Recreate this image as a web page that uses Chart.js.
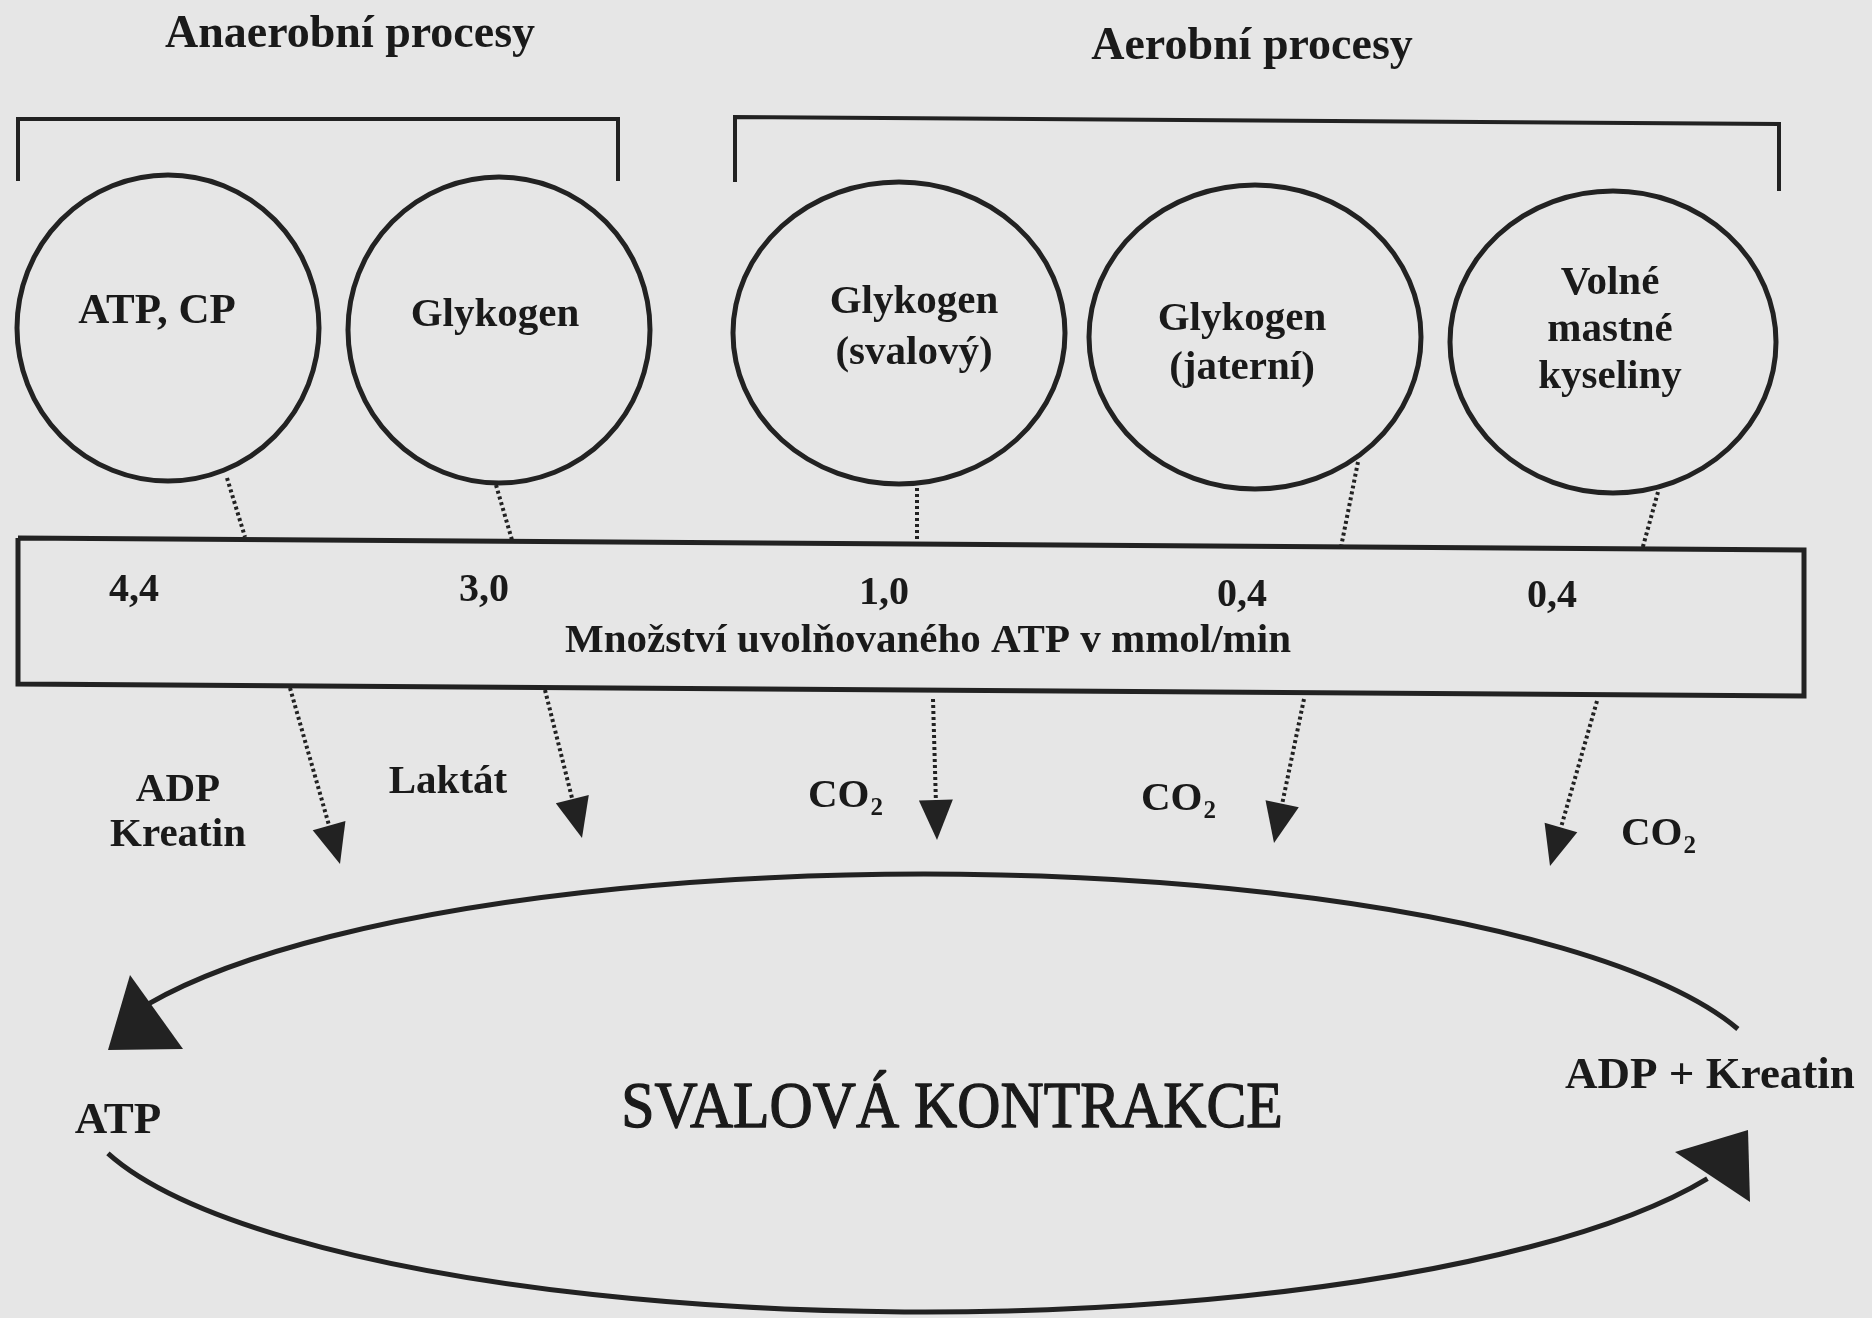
<!DOCTYPE html>
<html>
<head>
<meta charset="utf-8">
<title>Svalová kontrakce - zdroje ATP</title>
<script src="https://cdn.jsdelivr.net/npm/chart.js"></script>
<style>
  html, body { margin: 0; padding: 0; background: #e6e6e6; }
  #wrap { width: 1872px; height: 1318px; }
</style>
</head>
<body>
<div id="wrap"><canvas id="atpChart"></canvas></div>
<script>
// texts and values
const groupTitles = ['Anaerobní procesy', 'Aerobní procesy'];
const sources = [['ATP, CP'], ['Glykogen'], ['Glykogen', '(svalový)'], ['Glykogen', '(jaterní)'], ['Volné', 'mastné', 'kyseliny']];
const atpRates = [4.4, 3.0, 1.0, 0.4, 0.4];
const rateCaption = 'Množství uvolňovaného ATP v mmol/min';
const products = [['ADP', 'Kreatin'], ['Laktát'], ['CO2'], ['CO2'], ['CO2']];
const cycleTitle = 'SVALOVÁ KONTRAKCE';
const cycleLabels = ['ATP', 'ADP + Kreatin'];

// layout in diagram units (x 0..1872, y 0..1318 going down)
const groupTitlePos = [[350, 47], [1252, 59]];
const brackets = [
  [[18, 181], [18, 119], [618, 119], [618, 181]],
  [[735, 182], [735, 117], [1779, 124], [1779, 191]]
];
const sourceCircles = [[168, 328, 151, 153], [499, 330, 151, 153], [899, 333, 166, 151], [1255, 337, 166, 152], [1613, 342, 163, 151]];
const sourceTextPos = [[157, 323], [495, 326], [914, 313], [1242, 330], [1610, 294]];
const sourceTextSize = [43, 41, 41, 41, 41];
const sourceLineGap = [0, 0, 51, 49, 47];
const rateBox = [[18, 538], [1804, 550], [1804, 696], [18, 684], [18, 538]];
const rateTextPos = [[134, 601], [484, 601], [884, 604], [1242, 606], [1552, 607]];
const captionPos = [928, 652];
const links = [[[227, 478], [245, 537]], [[496, 485], [512, 540]], [[917, 488], [917, 543]], [[1358, 462], [1341, 547]], [[1658, 492], [1642, 550]]];
const outflows = [[[290, 688], [340, 864]], [[545, 690], [582, 838]], [[933, 699], [937, 840]], [[1304, 699], [1274, 843]], [[1597, 701], [1550, 866]]];
const productPos = [[178, 801], [448, 793], [845, 807], [1178, 810], [1658, 845]];
const cycle = [925, 1093, 850, 219];
const cycleArcs = [[-156, -17], [23, 164]];
const cycleHeads = [[[130, 975], [108, 1050], [183, 1049]], [[1675, 1152], [1748, 1130], [1750, 1202]]];
const cycleTitlePos = [952, 1127];
const cycleLabelPos = [[118, 1133], [1710, 1088]];

const INK = '#222222';
const TEXT = '#1a1a1a';
const SERIF = '"Liberation Serif", "Times New Roman", serif';
const HEAD_LEN = 40, HEAD_HALF = 17;

function pts(arr) { return arr.map(p => ({ x: p[0], y: p[1] })); }

function shaftEnd(a, b) {
  const dx = b[0] - a[0], dy = b[1] - a[1];
  const len = Math.hypot(dx, dy);
  return [b[0] - dx / len * (HEAD_LEN - 4), b[1] - dy / len * (HEAD_LEN - 4)];
}

const datasets = [];
brackets.forEach(b => datasets.push({ data: pts(b), borderWidth: 4 }));
datasets.push({ data: pts(rateBox), borderWidth: 5 });
links.forEach(l => datasets.push({ data: pts(l), borderWidth: 4, borderDash: [3, 3] }));
outflows.forEach(o => datasets.push({ data: pts([o[0], shaftEnd(o[0], o[1])]), borderWidth: 4, borderDash: [3, 3] }));
datasets.forEach(d => Object.assign(d, { showLine: true, borderColor: INK, pointRadius: 0, fill: false, clip: false, tension: 0 }));

const diagram = {
  id: 'diagram',
  beforeDraw(chart) {
    const ctx = chart.ctx;
    ctx.save();
    ctx.fillStyle = '#e6e6e6';
    ctx.fillRect(0, 0, chart.width, chart.height);
    ctx.restore();
  },
  afterDatasetsDraw(chart) {
    const ctx = chart.ctx;
    const sx = chart.scales.x, sy = chart.scales.y;
    const X = v => sx.getPixelForValue(v);
    const Y = v => sy.getPixelForValue(v);
    ctx.save();
    ctx.strokeStyle = INK;
    ctx.fillStyle = INK;
    ctx.lineJoin = 'round';

    // source circles
    ctx.lineWidth = 5;
    sourceCircles.forEach(c => {
      ctx.beginPath();
      ctx.ellipse(X(c[0]), Y(c[1]), X(c[0] + c[2]) - X(c[0]), Y(c[1] + c[3]) - Y(c[1]), 0, 0, Math.PI * 2);
      ctx.stroke();
    });

    // arrowheads of the outflows
    outflows.forEach(o => {
      const x0 = X(o[0][0]), y0 = Y(o[0][1]), x1 = X(o[1][0]), y1 = Y(o[1][1]);
      const len = Math.hypot(x1 - x0, y1 - y0);
      const ux = (x1 - x0) / len, uy = (y1 - y0) / len;
      const bx = x1 - ux * HEAD_LEN, by = y1 - uy * HEAD_LEN;
      ctx.beginPath();
      ctx.moveTo(x1, y1);
      ctx.lineTo(bx - uy * HEAD_HALF, by + ux * HEAD_HALF);
      ctx.lineTo(bx + uy * HEAD_HALF, by - ux * HEAD_HALF);
      ctx.closePath();
      ctx.fill();
    });

    // contraction cycle
    ctx.lineWidth = 5;
    cycleArcs.forEach(a => {
      ctx.beginPath();
      ctx.ellipse(X(cycle[0]), Y(cycle[1]), X(cycle[0] + cycle[2]) - X(cycle[0]), Y(cycle[1] + cycle[3]) - Y(cycle[1]),
        0, a[0] * Math.PI / 180, a[1] * Math.PI / 180);
      ctx.stroke();
    });
    cycleHeads.forEach(h => {
      ctx.beginPath();
      h.forEach((p, i) => i ? ctx.lineTo(X(p[0]), Y(p[1])) : ctx.moveTo(X(p[0]), Y(p[1])));
      ctx.closePath();
      ctx.fill();
    });

    // texts
    ctx.fillStyle = TEXT;
    ctx.strokeStyle = TEXT;
    ctx.textAlign = 'center';
    ctx.textBaseline = 'alphabetic';
    const text = (s, x, y, size, weight) => {
      ctx.font = (weight || 'bold') + ' ' + size + 'px ' + SERIF;
      if (s === 'CO2') {
        const w1 = ctx.measureText('CO').width;
        ctx.font = 'bold ' + Math.round(size * 0.62) + 'px ' + SERIF;
        const w2 = ctx.measureText('2').width;
        const left = X(x) - (w1 + w2) / 2;
        ctx.textAlign = 'left';
        ctx.font = 'bold ' + size + 'px ' + SERIF;
        ctx.fillText('CO', left, Y(y));
        ctx.font = 'bold ' + Math.round(size * 0.62) + 'px ' + SERIF;
        ctx.fillText('2', left + w1 + 1, Y(y) + 8);
        ctx.textAlign = 'center';
        return;
      }
      ctx.fillText(s, X(x), Y(y));
    };

    groupTitles.forEach((t, i) => text(t, groupTitlePos[i][0], groupTitlePos[i][1], 46));
    sources.forEach((lines, i) => lines.forEach((l, j) =>
      text(l, sourceTextPos[i][0], sourceTextPos[i][1] + j * sourceLineGap[i], sourceTextSize[i])));
    atpRates.forEach((v, i) => text(v.toFixed(1).replace('.', ','), rateTextPos[i][0], rateTextPos[i][1], 40));
    text(rateCaption, captionPos[0], captionPos[1], 41);
    products.forEach((lines, i) => lines.forEach((l, j) => text(l, productPos[i][0], productPos[i][1] + j * 45, 41)));

    // big title: slightly condensed, medium weight
    ctx.save();
    ctx.translate(X(cycleTitlePos[0]), Y(cycleTitlePos[1]));
    ctx.scale(0.92, 1);
    ctx.font = 'normal 65px ' + SERIF;
    ctx.lineWidth = 1.3;
    ctx.fillText(cycleTitle, 0, 0);
    ctx.strokeText(cycleTitle, 0, 0);
    ctx.restore();

    cycleLabels.forEach((t, i) => text(t, cycleLabelPos[i][0], cycleLabelPos[i][1], 45));
    ctx.restore();
  }
};

new Chart(document.getElementById('atpChart'), {
  type: 'scatter',
  data: { datasets: datasets },
  options: {
    animation: false,
    responsive: true,
    maintainAspectRatio: false,
    layout: { padding: 0 },
    plugins: { legend: { display: false }, tooltip: { enabled: false } },
    scales: {
      x: { type: 'linear', min: 0, max: 1872, display: false },
      y: { type: 'linear', min: 0, max: 1318, reverse: true, display: false }
    }
  },
  plugins: [diagram]
});
</script>
</body>
</html>
